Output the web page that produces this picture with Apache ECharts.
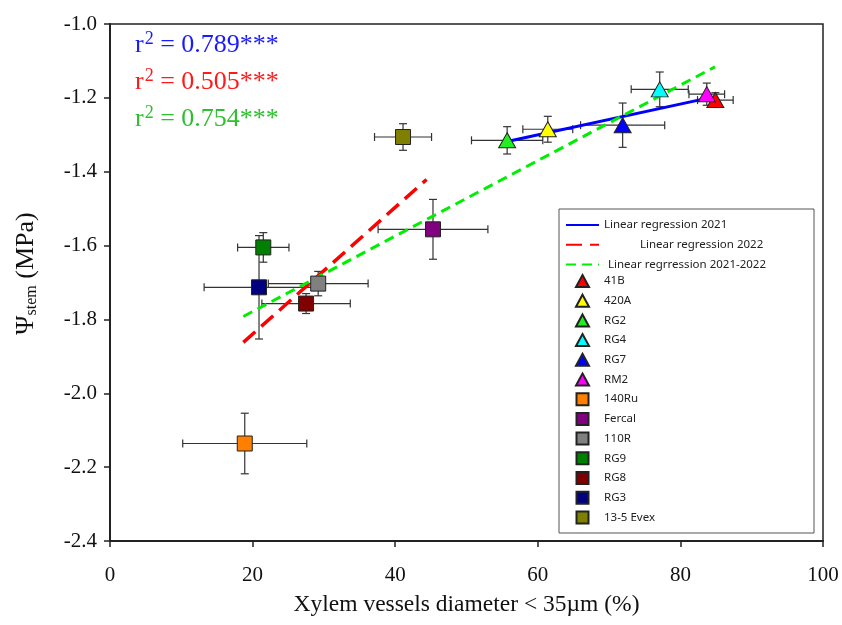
<!DOCTYPE html>
<html>
<head>
<meta charset="utf-8">
<script src="https://cdn.jsdelivr.net/npm/echarts@6/dist/echarts.min.js"></script>
<style>
  html, body { margin: 0; padding: 0; background: #fff; }
  #chart { width: 842px; height: 625px; }
</style>
</head>
<body>
<div id="chart"></div>
<script>
// data
const cultivars = ['41B', '420A', 'RG2', 'RG4', 'RG7', 'RM2', '140Ru', 'Fercal', '110R', 'RG9', 'RG8', 'RG3', '13-5 Evex'];
const vesselPct = [84.9, 61.4, 55.7, 77.1, 71.9, 83.7, 18.9, 45.3, 29.2, 21.5, 27.5, 20.9, 41.1];
const psiStem = [-1.206, -1.285, -1.315, -1.177, -1.274, -1.19, -2.136, -1.556, -1.703, -1.605, -1.757, -1.713, -1.306];
const vesselErr = [2.5, 3.5, 5.0, 4.0, 5.9, 2.5, 8.7, 7.7, 7.0, 3.6, 6.2, 7.7, 4.0];
const psiErr = [0.02, 0.035, 0.037, 0.047, 0.06, 0.03, 0.082, 0.081, 0.033, 0.04, 0.027, 0.14, 0.036];

const regNames = ['Linear regression 2021', 'Linear regression 2022', 'Linear regrression 2021-2022'];
const reg2021 = [[55.7, -1.318], [84.5, -1.198]];
const reg2022 = [[18.7, -1.862], [44.4, -1.421]];
const regAll = [[18.7, -1.792], [84.85, -1.116]];
const r2Labels = ['0.789***', '0.505***', '0.754***'];

// look
const pointColors = ['#ff0000', '#ffff00', '#22ee22', '#00ffff', '#0000ff', '#ff00ff', '#ff8000', '#800080', '#808080', '#008000', '#800000', '#000080', '#808000'];
const pointShapes = ['triangle', 'triangle', 'triangle', 'triangle', 'triangle', 'triangle', 'rect', 'rect', 'rect', 'rect', 'rect', 'rect', 'rect'];
const legendIcons = { triangle: 'path://M6.5,0L13,12L0,12Z', rect: 'path://M0,0H12V12H0Z' };
const regColors = ['#0000ff', '#ff0000', '#00ee00'];
const r2Colors = ['#1a1aff', '#ff1a1a', '#2dbf2d'];
const serif = 'Liberation Serif';

const chart = echarts.init(document.getElementById('chart'));

const errData = cultivars.map((c, i) => [vesselPct[i], psiStem[i], vesselErr[i], psiErr[i]]);

const series = [];

// error bars
series.push({
    type: 'custom',
    name: 'err',
    z: 1,
    silent: true,
    data: errData,
    renderItem: function (params, api) {
        const x = api.value(0), y = api.value(1), ex = api.value(2), ey = api.value(3);
        const l = api.coord([x - ex, y]);
        const r = api.coord([x + ex, y]);
        const t = api.coord([x, y + ey]);
        const b = api.coord([x, y - ey]);
        const cap = 4;
        const st = { stroke: '#333', lineWidth: 1.2 };
        const ln = (x1, y1, x2, y2) => ({ type: 'line', shape: { x1: x1, y1: y1, x2: x2, y2: y2 }, style: st });
        return {
            type: 'group',
            children: [
                ln(l[0], l[1], r[0], r[1]),
                ln(l[0], l[1] - cap, l[0], l[1] + cap),
                ln(r[0], r[1] - cap, r[0], r[1] + cap),
                ln(t[0], t[1], b[0], b[1]),
                ln(t[0] - cap, t[1], t[0] + cap, t[1]),
                ln(b[0] - cap, b[1], b[0] + cap, b[1])
            ]
        };
    }
});

// regression lines
const regData = [reg2021, reg2022, regAll];
const regDash = ['solid', [16, 8], [10, 6]];
const regWidth = [3, 3.5, 3];
regNames.forEach((n, i) => {
    series.push({
        type: 'line',
        name: n,
        z: 2,
        data: regData[i],
        symbol: 'none',
        lineStyle: { color: regColors[i], width: regWidth[i], type: regDash[i] },
        itemStyle: { color: regColors[i] }
    });
});

// points
cultivars.forEach((c, i) => {
    series.push({
        type: 'scatter',
        name: c,
        z: 3,
        data: [[vesselPct[i], psiStem[i]]],
        symbol: pointShapes[i],
        symbolSize: pointShapes[i] === 'triangle' ? [17, 15] : 15,
        itemStyle: { color: pointColors[i], borderColor: '#222', borderWidth: 1, opacity: 1 }
    });
});

// legend entries: lines without the dot, points with fixed-size icons
const lineLegend = regNames.map((n, i) => {
    const item = { name: n, itemStyle: { opacity: 0 } };
    if (i === 1) item.textStyle = { padding: [0, 0, 0, 36] };
    if (i === 2) item.textStyle = { padding: [0, 0, 0, 4] };
    return item;
});
const pointLegend = cultivars.map((c, i) => ({ name: c, icon: legendIcons[pointShapes[i]] }));

const legendBase = {
    orient: 'vertical',
    padding: 0,
    itemWidth: 33,
    itemHeight: 12,
    symbolKeepAspect: true,
    textStyle: { fontFamily: 'Noto Sans', fontSize: 11.5, color: '#222', lineHeight: 12 }
};

const option = {
    animation: false,
    grid: { left: 110, right: 19, top: 24, bottom: 84, show: true, borderColor: '#222', borderWidth: 1.5 },
    xAxis: {
        type: 'value',
        min: 0, max: 100, interval: 20,
        name: 'Xylem vessels diameter < 35\u00b5m (%)',
        nameLocation: 'middle',
        nameGap: 52,
        nameTextStyle: { fontFamily: serif, fontSize: 23.5, color: '#111' },
        axisLine: { onZero: false, lineStyle: { color: '#222', width: 2 } },
        axisTick: { show: true, length: 6, lineStyle: { color: '#222', width: 1.5 } },
        axisLabel: { margin: 24, fontFamily: serif, fontSize: 21, color: '#111' },
        splitLine: { show: false }
    },
    yAxis: {
        type: 'value',
        min: -2.4, max: -1.0, interval: 0.2,
        name: '{a|\u03a8}{b|stem}{a| (MPa)}',
        nameLocation: 'middle',
        nameGap: 70,
        nameTextStyle: {
            padding: [0, 0, 0, 18],
            rich: {
                a: { fontFamily: serif, fontSize: 26, color: '#111' },
                b: { fontFamily: serif, fontSize: 16, color: '#111', padding: [11, 0, 0, 0] }
            }
        },
        axisLine: { onZero: false, lineStyle: { color: '#222', width: 2 } },
        axisTick: { show: true, length: 6, lineStyle: { color: '#222', width: 1.5 } },
        axisLabel: { margin: 13, fontFamily: serif, fontSize: 21, color: '#111', formatter: v => v.toFixed(1) },
        splitLine: { show: false }
    },
    legend: [
        Object.assign({}, legendBase, { left: 565, top: 219, itemGap: 7.7, data: lineLegend }),
        Object.assign({}, legendBase, { left: 575, top: 274, itemGap: 5.7, data: pointLegend })
    ],
    graphic: [
        {
            type: 'rect',
            z: 0,
            silent: true,
            shape: { x: 559, y: 209, width: 255, height: 324 },
            style: { fill: '#fff', stroke: '#555', lineWidth: 1 }
        }
    ].concat(r2Labels.map((t, i) => ({
        type: 'text',
        left: 135,
        top: 30 + i * 37,
        z: 10,
        style: {
            text: '{r|r}{s|2}{r| = ' + t + '}',
            rich: {
                r: { fontFamily: serif, fontSize: 26, fill: r2Colors[i] },
                s: { fontFamily: serif, fontSize: 18, fill: r2Colors[i], padding: [0, 0, 12, 1] }
            }
        }
    }))),
    series: series
};

chart.setOption(option);
</script>
</body>
</html>
